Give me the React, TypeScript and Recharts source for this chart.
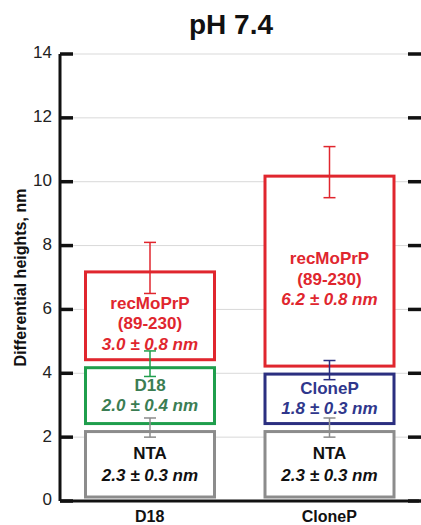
import React from 'react';
import { BarChart, Bar, XAxis, YAxis, CartesianGrid } from 'recharts';

const categories = ['D18', 'CloneP'];
const ntaHeights = [2.3, 2.3];
const ntaErrors = [0.3, 0.3];
const ligandNames = ['D18', 'CloneP'];
const ligandHeights = [2.0, 1.8];
const ligandErrors = [0.4, 0.3];
const prpHeights = [3.0, 6.2];
const prpErrors = [0.8, 0.8];
const yTicks = [0, 2, 4, 6, 8, 10, 12, 14];

const data = categories.map((name, i) => ({
  name,
  nta: ntaHeights[i],
  ntaErr: ntaErrors[i],
  lig: ligandHeights[i],
  ligErr: ligandErrors[i],
  ligName: ligandNames[i],
  prp: prpHeights[i],
  prpErr: prpErrors[i],
}));

const FONT = '"Liberation Sans", Arial, sans-serif';
const W = 421;
const H = 525;
const PLOT_L = 60;
const PLOT_R = 419;

const GRAY = '#8c8c8c';
const RED = '#e0262e';
const LIG_BOX = ['#1f9e4c', '#2b2f80'];
const LIG_TEXT = ['#3b7d53', '#2f378c'];

function fmt(v: number, e: number) {
  return `${v.toFixed(1)} \u00b1 ${e.toFixed(1)} nm`;
}

function Box({ x, y, width, height, color }: any) {
  return (
    <rect x={x + 1.5} y={y + 4} width={width - 3} height={height - 8}
      fill="#fff" stroke={color} strokeWidth={3} />
  );
}

function Lines({ cx, cy, lines, gap }: any) {
  const n = lines.length;
  return (
    <g fontFamily={FONT} fontWeight="bold" fontSize={17} textAnchor="middle">
      {lines.map((l: any, k: number) => (
        <text key={k} x={cx} y={cy + (k - (n - 1) / 2) * gap} dominantBaseline="middle"
          fill={l.color} fontStyle={l.italic ? 'italic' : 'normal'}>{l.text}</text>
      ))}
    </g>
  );
}

function ErrBar({ cx, y, e, color }: any) {
  return (
    <g stroke={color} strokeWidth={1.5}>
      <line x1={cx} x2={cx} y1={y - e} y2={y + e} />
      <line x1={cx - 6} x2={cx + 6} y1={y - e} y2={y - e} />
      <line x1={cx - 6} x2={cx + 6} y1={y + e} y2={y + e} />
    </g>
  );
}

function NtaShape(p: any) {
  const { x, y, width, height, payload } = p;
  return (
    <g>
      <Box x={x} y={y} width={width} height={height} color={GRAY} />
      <Lines cx={x + width / 2} cy={y + height / 2 + 1} gap={22} lines={[
        { text: 'NTA', color: '#111' },
        { text: fmt(payload.nta, payload.ntaErr), color: '#111', italic: true },
      ]} />
    </g>
  );
}

function LigShape(p: any) {
  const { x, y, width, height, payload, index } = p;
  const c = LIG_TEXT[index];
  return (
    <g>
      <Box x={x} y={y} width={width} height={height} color={LIG_BOX[index]} />
      <Lines cx={x + width / 2} cy={y + height / 2 + 1} gap={20} lines={[
        { text: payload.ligName, color: c },
        { text: fmt(payload.lig, payload.ligErr), color: c, italic: true },
      ]} />
    </g>
  );
}

function PrpShape(p: any) {
  const { x, y, width, height, payload, index } = p;
  const cx = x + width / 2;
  const ppu = height / payload.prp;
  const base = y + height + (payload.nta + payload.lig) * ppu;
  const ntaTop = base - payload.nta * ppu;
  const ligTop = base - (payload.nta + payload.lig) * ppu;
  return (
    <g>
      <Box x={x} y={y} width={width} height={height} color={RED} />
      <Lines cx={cx} cy={y + height / 2 + 9} gap={20.5} lines={[
        { text: 'recMoPrP', color: RED },
        { text: '(89-230)', color: RED },
        { text: fmt(payload.prp, payload.prpErr), color: RED, italic: true },
      ]} />
      <ErrBar cx={cx} y={ntaTop} e={payload.ntaErr * ppu} color={GRAY} />
      <ErrBar cx={cx} y={ligTop} e={payload.ligErr * ppu} color={LIG_BOX[index]} />
      <ErrBar cx={cx} y={y} e={payload.prpErr * ppu} color={RED} />
    </g>
  );
}

function YTick({ y, payload }: any) {
  return (
    <g>
      <text x={52} y={y} textAnchor="end" dominantBaseline="middle"
        fontFamily={FONT} fontSize={17} fill="#222">{payload.value}</text>
      <line x1={PLOT_L} x2={PLOT_L + 13} y1={y} y2={y} stroke="#111" strokeWidth={3.5} />
      <line x1={PLOT_R - 11} x2={W} y1={y} y2={y} stroke="#111" strokeWidth={3.5} />
    </g>
  );
}

function XTick({ x, y, payload }: any) {
  return (
    <text x={x} y={y + 13} textAnchor="middle" fontFamily={FONT} fontWeight="bold"
      fontSize={16} fill="#111">{payload.value}</text>
  );
}

function YLabel({ viewBox }: any) {
  const cy = viewBox.y + viewBox.height / 2;
  return (
    <text x={22} y={cy} transform={`rotate(-90 22 ${cy})`} textAnchor="middle"
      dominantBaseline="middle" fontFamily={FONT} fontWeight="bold" fontSize={16}
      fill="#111">Differential heights, nm</text>
  );
}

export default function App() {
  return (
    <div style={{ position: 'absolute', left: 0, top: 0, width: W, height: H, background: '#fff' }}>
      <div style={{
        position: 'absolute', left: 0, top: 9, width: 462, textAlign: 'center',
        fontFamily: FONT, fontWeight: 'bold', fontSize: 28, lineHeight: '32px', color: '#111',
      }}>pH 7.4</div>
      <BarChart width={W} height={H} data={data} barSize={132}
        margin={{ top: 54, right: W - PLOT_R, left: 0, bottom: 0 }}>
        <CartesianGrid vertical={false} stroke="#d9d9d9" strokeWidth={1} />
        <XAxis dataKey="name" height={24} axisLine={{ stroke: '#111', strokeWidth: 3 }}
          tickLine={false} tick={<XTick />} interval={0} />
        <XAxis xAxisId="top" orientation="top" dataKey="name" height={0} tick={false}
          tickLine={false} axisLine={{ stroke: '#111', strokeWidth: 3 }} />
        <YAxis domain={[0, 14]} ticks={yTicks} width={PLOT_L} interval={0}
          axisLine={{ stroke: '#111', strokeWidth: 3 }} tickLine={false} tick={<YTick />}
          label={<YLabel />} />
        <YAxis yAxisId="right" orientation="right" domain={[0, 14]} width={0} tick={false}
          tickLine={false} axisLine={{ stroke: '#bbb', strokeWidth: 1 }} />
        <Bar dataKey="nta" stackId="s" isAnimationActive={false} shape={NtaShape} />
        <Bar dataKey="lig" stackId="s" isAnimationActive={false} shape={LigShape} />
        <Bar dataKey="prp" stackId="s" isAnimationActive={false} shape={PrpShape} />
      </BarChart>
    </div>
  );
}
